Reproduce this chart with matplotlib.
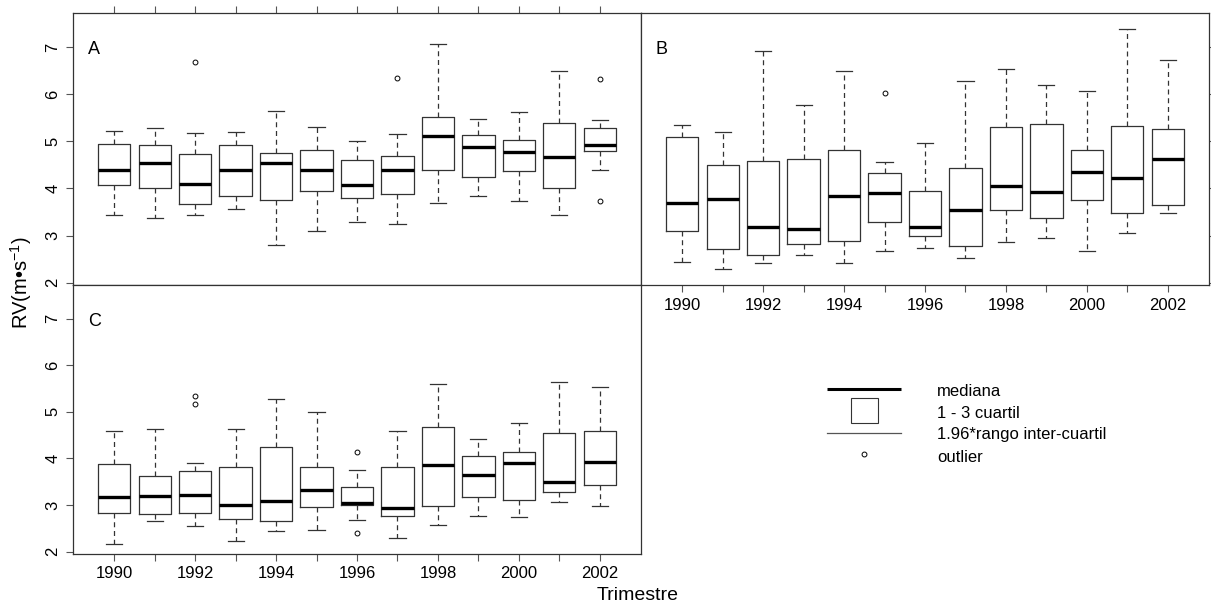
import matplotlib
matplotlib.use('agg')
import matplotlib.pyplot as plt
from matplotlib.patches import Rectangle

plt.rcParams['font.family'] = ['Liberation Sans', 'DejaVu Sans']
plt.rcParams['mathtext.fontset'] = 'custom'
plt.rcParams['mathtext.rm'] = 'Liberation Sans'

years = list(range(1990, 2003))
year_labels = [str(y) if y % 2 == 0 else '' for y in years]
y_ticks = [2, 3, 4, 5, 6, 7]

# panel A
a_low = [3.44, 3.38, 3.44, 3.57, 2.79, 3.09, 3.29, 3.24, 3.70, 3.83, 3.73, 3.43, 4.39]
a_q1 = [4.07, 4.01, 3.67, 3.84, 3.75, 3.94, 3.80, 3.88, 4.39, 4.24, 4.37, 4.00, 4.79]
a_med = [4.38, 4.53, 4.10, 4.40, 4.53, 4.40, 4.08, 4.40, 5.12, 4.88, 4.78, 4.67, 4.93]
a_q3 = [4.94, 4.92, 4.72, 4.91, 4.74, 4.81, 4.60, 4.69, 5.51, 5.13, 5.02, 5.38, 5.27]
a_high = [5.21, 5.27, 5.18, 5.19, 5.65, 5.30, 5.00, 5.15, 7.06, 5.48, 5.63, 6.49, 5.44]
a_out = [[], [], [6.67], [], [], [], [], [6.35], [], [], [], [], [6.31, 3.74]]

# panel B
b_low = [2.43, 2.30, 2.41, 2.58, 2.41, 2.67, 2.73, 2.53, 2.86, 2.94, 2.67, 3.05, 3.47]
b_q1 = [3.09, 2.71, 2.58, 2.82, 2.88, 3.28, 2.99, 2.78, 3.54, 3.37, 3.75, 3.47, 3.64]
b_med = [3.70, 3.77, 3.18, 3.14, 3.83, 3.90, 3.18, 3.54, 4.06, 3.92, 4.35, 4.21, 4.62]
b_q3 = [5.09, 4.49, 4.58, 4.62, 4.81, 4.32, 3.94, 4.43, 5.30, 5.36, 4.81, 5.32, 5.25]
b_high = [5.34, 5.19, 6.91, 5.77, 6.49, 4.56, 4.96, 6.28, 6.54, 6.20, 6.07, 7.38, 6.72]
b_out = [[], [], [], [], [], [6.03], [], [], [], [], [], [], []]

# panel C
c_low = [2.17, 2.66, 2.55, 2.23, 2.44, 2.46, 2.68, 2.29, 2.58, 2.76, 2.74, 3.06, 2.98]
c_q1 = [2.83, 2.80, 2.83, 2.71, 2.66, 2.96, 3.00, 2.76, 2.98, 3.17, 3.10, 3.27, 3.42]
c_med = [3.17, 3.19, 3.21, 3.01, 3.09, 3.33, 3.05, 2.93, 3.86, 3.65, 3.90, 3.50, 3.92]
c_q3 = [3.89, 3.62, 3.72, 3.81, 4.25, 3.81, 3.38, 3.81, 4.67, 4.06, 4.14, 4.54, 4.58]
c_high = [4.58, 4.63, 3.91, 4.63, 5.28, 5.00, 3.76, 4.58, 5.59, 4.41, 4.75, 5.63, 5.54]
c_out = [[], [], [5.33, 5.16], [], [], [], [4.14, 2.40], [], [], [], [], [], []]

legend_labels = ['mediana', '1 - 3 cuartil', '1.96*rango inter-cuartil', 'outlier']

W, H = 1211, 607
fig = plt.figure(figsize=(W / 100, H / 100), dpi=100)

edge = '#333333'


def stats(low, q1, med, q3, high, out):
    return [dict(whislo=l, q1=a, med=m, q3=b, whishi=h, fliers=f)
            for l, a, m, b, h, f in zip(low, q1, med, q3, high, out)]


def draw(ax, st, letter):
    ax.bxp(st, positions=years, widths=0.8, capwidths=0.4, manage_ticks=False,
           boxprops=dict(color=edge, lw=0.9),
           whiskerprops=dict(color=edge, lw=0.9, ls=(0, (4, 3))),
           capprops=dict(color=edge, lw=0.9),
           medianprops=dict(color='k', lw=2.4, solid_capstyle='butt'),
           flierprops=dict(marker='o', ms=3.5, mfc='none', mec='k', mew=0.7))
    ax.set_xlim(1988.98, 2003.02)
    ax.set_ylim(1.95, 7.72)
    for s in ax.spines.values():
        s.set_color(edge)
        s.set_linewidth(0.9)
    ax.tick_params(length=5, width=0.8, color='#555555', labelsize=12, pad=4)
    ax.text(0.026, 0.865, letter, transform=ax.transAxes, fontsize=13,
            ha='left', va='center')


def box(x0, y0, x1, y1):
    return [x0 / W, 1 - y1 / H, (x1 - x0) / W, (y1 - y0) / H]


ax_a = fig.add_axes(box(73, 13, 641, 285))
ax_b = fig.add_axes(box(641, 13, 1209, 285))
ax_c = fig.add_axes(box(73, 285, 641, 554))

draw(ax_a, stats(a_low, a_q1, a_med, a_q3, a_high, a_out), 'A')
draw(ax_b, stats(b_low, b_q1, b_med, b_q3, b_high, b_out), 'B')
draw(ax_c, stats(c_low, c_q1, c_med, c_q3, c_high, c_out), 'C')

ax_a.set_xticks(years)
ax_a.tick_params(axis='x', top=True, bottom=False, labeltop=False, labelbottom=False)
ax_a.set_yticks(y_ticks)
ax_a.set_yticklabels([str(v) for v in y_ticks], rotation=90, va='center')

ax_b.set_xticks(years)
ax_b.set_xticklabels(year_labels)
ax_b.set_yticks(y_ticks)
ax_b.tick_params(axis='y', left=False, right=True, labelleft=False, labelright=False)

ax_c.set_xticks(years)
ax_c.set_xticklabels(year_labels)
ax_c.set_yticks(y_ticks)
ax_c.set_yticklabels([str(v) for v in y_ticks], rotation=90, va='center')

fig.text(21 / W, 1 - 283 / H, 'RV(m•s$^{-1}$)', rotation=90, ha='center',
         va='center', fontsize=14.5)
fig.text(597 / W, 1 - 595 / H, 'Trimestre', ha='left', va='center', fontsize=14)

# legend drawn in figure pixel space
lg = fig.add_axes([0, 0, 1, 1])
lg.set_xlim(0, W)
lg.set_ylim(H, 0)
lg.axis('off')
lg.plot([827, 901], [389, 389], color='k', lw=2.2, solid_capstyle='butt')
lg.add_patch(Rectangle((851, 398), 27, 25, fill=False, ec=edge, lw=0.8))
lg.plot([827, 901], [433, 433], color='#555555', lw=0.9)
lg.plot([864], [454], marker='o', ms=3.5, mfc='none', mec='k', mew=0.7)
for i, lab in enumerate(legend_labels):
    lg.text(937, 391 + 22 * i, lab, fontsize=12, ha='left', va='center')

fig.savefig('out.png', dpi=100)
